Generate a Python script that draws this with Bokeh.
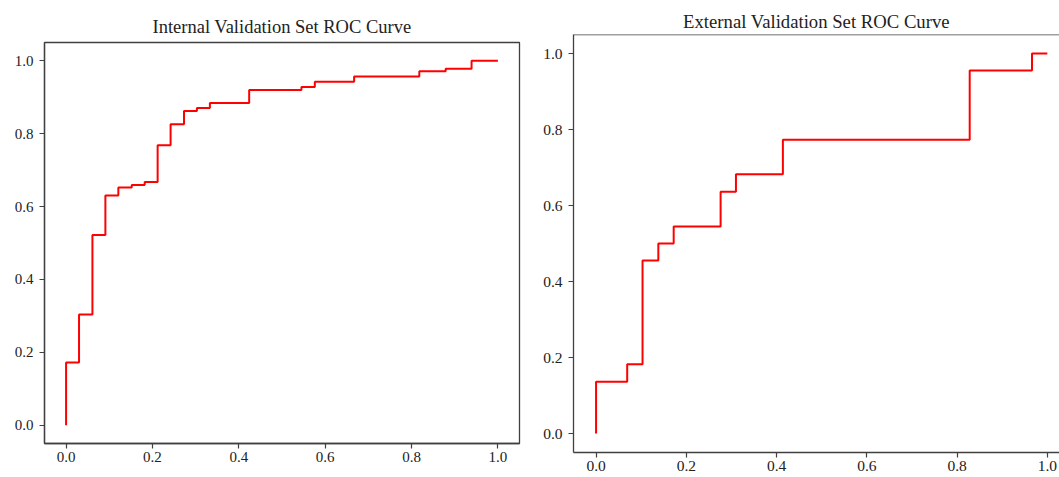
from bokeh.plotting import figure
from bokeh.layouts import row, column
from bokeh.models import FixedTicker, Range1d, Span
from bokeh.embed import file_html
from bokeh.resources import INLINE

# ---- data ----
internal_title = "Internal Validation Set ROC Curve"
internal_fpr = [0.0, 0.0, 0.030, 0.030, 0.061, 0.061, 0.091, 0.091, 0.121, 0.121,
                0.152, 0.152, 0.182, 0.182, 0.212, 0.212, 0.242, 0.242, 0.273, 0.273,
                0.303, 0.303, 0.333, 0.333, 0.424, 0.424, 0.545, 0.545, 0.576, 0.576,
                0.667, 0.667, 0.818, 0.818, 0.879, 0.879, 0.939, 0.939, 1.0]
internal_tpr = [0.0, 0.172, 0.172, 0.304, 0.304, 0.522, 0.522, 0.630, 0.630, 0.652,
                0.652, 0.659, 0.659, 0.667, 0.667, 0.768, 0.768, 0.826, 0.826, 0.862,
                0.862, 0.870, 0.870, 0.884, 0.884, 0.920, 0.920, 0.928, 0.928, 0.942,
                0.942, 0.957, 0.957, 0.971, 0.971, 0.978, 0.978, 1.0, 1.0]

external_title = "External Validation Set ROC Curve"
external_fpr = [0.0, 0.0, 0.069, 0.069, 0.103, 0.103, 0.138, 0.138, 0.172, 0.172,
                0.276, 0.276, 0.310, 0.310, 0.414, 0.414, 0.828, 0.828, 0.966, 0.966, 1.0]
external_tpr = [0.0, 0.136, 0.136, 0.182, 0.182, 0.455, 0.455, 0.500, 0.500, 0.545,
                0.545, 0.636, 0.636, 0.682, 0.682, 0.773, 0.773, 0.955, 0.955, 1.0, 1.0]

tick_values = [0.0, 0.2, 0.4, 0.6, 0.8, 1.0]
tick_labels = ["0.0", "0.2", "0.4", "0.6", "0.8", "1.0"]

FONT = "Liberation Serif"
SPINE = "#404040"
TEXT = "#222222"


def make_fig(title, fpr, tpr, width, height, borders, xr, yr, tick_px, title_px,
             title_standoff, outline=True):
    left, right, top, bottom = borders
    p = figure(width=width, height=height, title=title,
               x_range=Range1d(*xr), y_range=Range1d(*yr),
               output_backend="svg", toolbar_location=None,
               min_border_left=left, min_border_right=right,
               min_border_top=top, min_border_bottom=bottom)
    p.title.text_font = FONT
    p.title.text_font_size = title_px
    p.title.text_font_style = "normal"
    p.title.text_color = TEXT
    p.title.align = "center"
    p.title.standoff = title_standoff
    p.title.offset = 0
    p.grid.visible = False
    p.background_fill_color = "white"
    p.border_fill_color = "white"
    if outline:
        p.outline_line_color = SPINE
        p.outline_line_width = 1.3
    else:
        p.outline_line_color = None
        p.add_layout(Span(location=yr[1], dimension="width",
                          line_color=SPINE, line_width=1.3))
    for ax in p.axis:
        ax.ticker = FixedTicker(ticks=tick_values)
        ax.major_label_overrides = dict(zip(tick_values, tick_labels))
        ax.minor_tick_line_color = None
        ax.major_tick_in = 0
        ax.major_tick_out = 5
        ax.major_tick_line_color = SPINE
        ax.major_tick_line_width = 1.2
        ax.axis_line_color = SPINE
        ax.axis_line_width = 1.3
        ax.major_label_text_font = FONT
        ax.major_label_text_font_size = tick_px
        ax.major_label_text_color = TEXT
    p.xaxis.major_label_standoff = 3
    p.yaxis.major_label_standoff = 6
    p.line(fpr, tpr, line_color="#ff0000", line_width=2)
    return p


p1 = make_fig(internal_title, internal_fpr, internal_tpr,
              width=535, height=477, borders=(44, 16, 42, 34),
              xr=(-0.05, 1.05), yr=(-0.05, 1.05),
              tick_px="15px", title_px="18.5px", title_standoff=12)

p2 = make_fig(external_title, external_fpr, external_tpr,
              width=524, height=477, borders=(38, 0, 34, 25),
              xr=(-0.05, 1.027), yr=(-0.05, 1.05),
              tick_px="15.5px", title_px="18.7px", title_standoff=6, outline=False)

layout = row(column(p1), column(p2))
open("out.html", "w").write(file_html(layout, INLINE))
